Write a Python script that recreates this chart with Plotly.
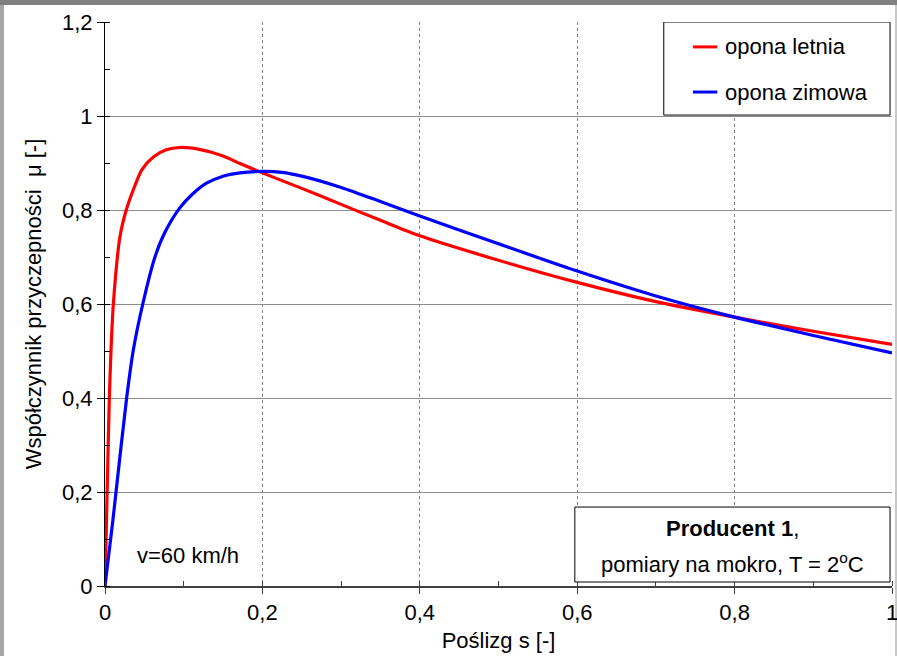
import plotly.graph_objects as go

# ---- data ----
s_letnia = [0, 0.0027, 0.0055, 0.0076, 0.0106, 0.019, 0.027, 0.036, 0.0466, 0.0614,
            0.078, 0.095, 0.12, 0.15, 0.1715, 0.2, 0.25, 0.3, 0.35, 0.4,
            0.5, 0.6, 0.7, 0.8, 0.9, 1.0]
mu_letnia = [0, 0.20, 0.40, 0.50, 0.60, 0.743, 0.80, 0.843, 0.885, 0.913,
             0.928, 0.933, 0.929, 0.915, 0.899, 0.879, 0.846, 0.812, 0.778, 0.745,
             0.693, 0.646, 0.605, 0.572, 0.542, 0.514]

s_zimowa = [0, 0.005, 0.0097, 0.014, 0.0275, 0.036, 0.048, 0.0635, 0.076, 0.0953,
            0.110, 0.129, 0.15, 0.1715, 0.2, 0.225, 0.25, 0.3, 0.35, 0.4,
            0.5, 0.6, 0.7, 0.8, 0.9, 1.0]
mu_zimowa = [0, 0.07, 0.135, 0.20, 0.40, 0.502, 0.60, 0.70, 0.752, 0.805,
             0.832, 0.857, 0.872, 0.879, 0.882, 0.880, 0.872, 0.848, 0.818, 0.787,
             0.728, 0.670, 0.617, 0.572, 0.533, 0.496]

series_names = ["opona letnia", "opona zimowa"]
x_ticks = [0, 0.2, 0.4, 0.6, 0.8, 1]
x_tick_labels = ["0", "0,2", "0,4", "0,6", "0,8", "1"]
y_ticks = [0, 0.2, 0.4, 0.6, 0.8, 1, 1.2]
y_tick_labels = ["0", "0,2", "0,4", "0,6", "0,8", "1", "1,2"]

FONT = "Liberation Sans, Arial, sans-serif"
FS = 22
RED = "#ff0000"
BLUE = "#0000ff"

fig = go.Figure()
fig.add_trace(go.Scatter(x=s_letnia, y=mu_letnia, mode="lines", name=series_names[0],
                         line=dict(color=RED, width=3.2, shape="spline", smoothing=0.7),
                         showlegend=False))
fig.add_trace(go.Scatter(x=s_zimowa, y=mu_zimowa, mode="lines", name=series_names[1],
                         line=dict(color=BLUE, width=3.2, shape="spline", smoothing=0.7),
                         showlegend=False))

# figure slightly wider than the 897px window so the last tick label fits in the div
W, H = 902, 656
L, R, T, B = 105, 10, 22, 70
pw, ph = W - L - R, H - T - B


def px2x(px):
    return (px - L) / pw


def py2y(py):
    return (H - B - py) / ph


shapes = []
# outer frame bands
shapes.append(dict(type="rect", xref="paper", yref="paper", x0=px2x(0), x1=px2x(W),
                   y0=py2y(5), y1=py2y(0), fillcolor="#808080", line=dict(width=0), layer="below"))
shapes.append(dict(type="rect", xref="paper", yref="paper", x0=px2x(0), x1=px2x(4),
                   y0=py2y(H), y1=py2y(5), fillcolor="#a6a6a6", line=dict(width=0), layer="below"))
shapes.append(dict(type="rect", xref="paper", yref="paper", x0=px2x(895), x1=px2x(W),
                   y0=py2y(H), y1=py2y(5), fillcolor="#c8c8c8", line=dict(width=0), layer="below"))

# legend box (data coords)
shapes.append(dict(type="rect", xref="x", yref="y", x0=0.710, x1=0.9975, y0=1.002, y1=1.2,
                   fillcolor="white", line=dict(color="black", width=1)))
shapes.append(dict(type="line", xref="x", yref="y", x0=0.747, x1=0.778, y0=1.147, y1=1.147,
                   line=dict(color=RED, width=3)))
shapes.append(dict(type="line", xref="x", yref="y", x0=0.747, x1=0.778, y0=1.051, y1=1.051,
                   line=dict(color=BLUE, width=3)))
# info box
shapes.append(dict(type="rect", xref="x", yref="y", x0=0.597, x1=0.9975, y0=0.0085, y1=0.168,
                   fillcolor="white", line=dict(color="black", width=1)))

annotations = [
    dict(x=0.785, y=1.147, xref="x", yref="y", text=series_names[0], showarrow=False,
         xanchor="left", yanchor="middle", font=dict(size=FS)),
    dict(x=0.785, y=1.051, xref="x", yref="y", text=series_names[1], showarrow=False,
         xanchor="left", yanchor="middle", font=dict(size=FS)),
    dict(x=0.797, y=0.123, xref="x", yref="y", text="<b>Producent 1</b>,", showarrow=False,
         xanchor="center", yanchor="middle", font=dict(size=FS)),
    dict(x=0.797, y=0.049, xref="x", yref="y", text="pomiary na mokro, T = 2<sup>o</sup>C",
         showarrow=False, xanchor="center", yanchor="middle", font=dict(size=FS)),
    dict(x=0.038, y=0.064, xref="x", yref="y", text="v=60 km/h", showarrow=False,
         xanchor="left", yanchor="middle", font=dict(size=FS)),
]

fig.update_layout(
    width=W, height=H,
    margin=dict(l=L, r=R, t=T, b=B, autoexpand=False),
    paper_bgcolor="white", plot_bgcolor="white",
    font=dict(family=FONT, size=FS, color="black"),
    shapes=shapes, annotations=annotations,
    showlegend=False,
)
fig.update_xaxes(
    range=[0, 1], tickvals=x_ticks, ticktext=x_tick_labels,
    automargin=False,
    showgrid=True, gridcolor="#808080", gridwidth=1, griddash="dot",
    showline=True, linecolor="#404040", linewidth=2,
    ticks="outside", ticklen=6, tickcolor="#404040",
    minor=dict(dtick=0.1, ticks="inside", ticklen=5, tickcolor="#404040", showgrid=False),
    zeroline=False,
    title=dict(text="Poślizg s [-]", standoff=8, font=dict(size=FS)),
    tickfont=dict(size=FS),
)
fig.update_yaxes(
    range=[0, 1.2], tickvals=y_ticks, ticktext=y_tick_labels,
    automargin=False,
    showgrid=True, gridcolor="#8c8c8c", gridwidth=1,
    showline=True, linecolor="black", linewidth=1,
    ticks="outside", ticklen=7, tickcolor="black",
    minor=dict(dtick=0.1, ticks="inside", ticklen=5, tickcolor="black", showgrid=False),
    zeroline=False,
    title=dict(text="Współczynnik przyczepności  μ [-]", standoff=14, font=dict(size=FS)),
    tickfont=dict(size=FS),
)

fig.write_html("out.html", config={"displayModeBar": False})

# remove default page margin so the figure sits at the window origin
with open("out.html", "r", encoding="utf-8") as f:
    html = f.read()
html = html.replace("<head>", "<head><style>html,body{margin:0;padding:0;overflow:hidden;}</style>", 1)
with open("out.html", "w", encoding="utf-8") as f:
    f.write(html)
